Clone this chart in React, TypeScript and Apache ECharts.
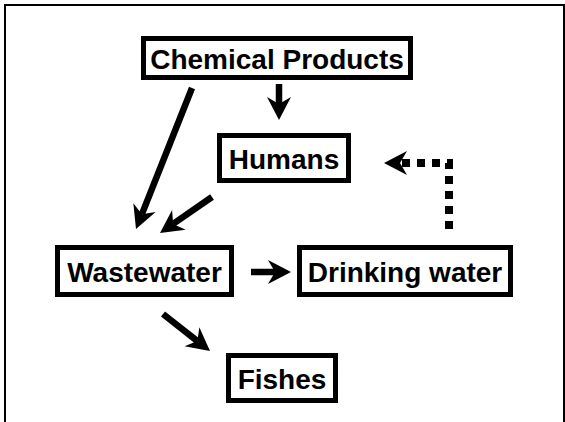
import React, { useEffect, useRef } from "react";
import * as echarts from "echarts";

// Node labels of the flow diagram
const nodeNames = ["Chemical Products", "Humans", "Wastewater", "Drinking water", "Fishes"];
// Links: [from, to, style]
const linkList: [string, string, string][] = [
  ["Chemical Products", "Humans", "solid"],
  ["Chemical Products", "Wastewater", "solid"],
  ["Humans", "Wastewater", "solid"],
  ["Wastewater", "Drinking water", "solid"],
  ["Wastewater", "Fishes", "solid"],
  ["Drinking water", "Humans", "dotted"],
];

// Layout (box outer bounds: x0, y0, x1, y1)
const boxLayout: Record<string, [number, number, number, number]> = {
  "Chemical Products": [141, 36, 413, 80],
  Humans: [217, 133, 351, 183],
  Wastewater: [55, 245, 234, 297],
  "Drinking water": [297, 245, 513, 297],
  Fishes: [226, 353, 338, 403],
};
// Arrow geometry: list of points, last is tip
const arrowLayout: Record<string, number[][]> = {
  "Chemical Products>Humans": [[279, 84], [279, 120]],
  "Chemical Products>Wastewater": [[192, 88], [136, 229]],
  "Humans>Wastewater": [[212, 197], [160, 233]],
  "Wastewater>Drinking water": [[251, 272], [291, 272]],
  "Wastewater>Fishes": [[163, 314], [210, 351]],
  "Drinking water>Humans": [[449, 229], [449, 163], [384, 163]],
};

function arrowHead(from: number[], tip: number[], L = 23, W = 12, n = 7) {
  const dx = tip[0] - from[0];
  const dy = tip[1] - from[1];
  const len = Math.hypot(dx, dy);
  const ux = dx / len, uy = dy / len;
  const px = -uy, py = ux;
  const bx = tip[0] - ux * L, by = tip[1] - uy * L;
  const notch = [tip[0] - ux * (L - n), tip[1] - uy * (L - n)];
  return {
    poly: [tip, [bx + px * W, by + py * W], notch, [bx - px * W, by - py * W]],
    notch,
  };
}

export default function App() {
  const ref = useRef<HTMLDivElement>(null);
  useEffect(() => {
    document.body.style.margin = "0";
    const chart = echarts.init(ref.current!, null, { renderer: "svg" });
    const elements: any[] = [];
    elements.push({
      type: "rect",
      shape: { x: 5, y: 5, width: 559, height: 500 },
      style: { fill: "#fff", stroke: "#000", lineWidth: 2 },
    });
    const sw = 5;
    nodeNames.forEach((name) => {
      const [x0, y0, x1, y1] = boxLayout[name];
      elements.push({
        type: "rect",
        shape: { x: x0 + sw / 2, y: y0 + sw / 2, width: x1 - x0 - sw, height: y1 - y0 - sw },
        style: { fill: "#fff", stroke: "#000", lineWidth: sw },
      });
      elements.push({
        type: "text",
        x: (x0 + x1) / 2,
        y: (y0 + y1) / 2 + 1,
        style: {
          text: name,
          fill: "#000",
          font: "bold 28px 'Liberation Sans', Arial, sans-serif",
          align: "center",
          verticalAlign: "middle",
        },
      });
    });
    linkList.forEach(([a, b, kind]) => {
      const pts = arrowLayout[a + ">" + b];
      const tip = pts[pts.length - 1];
      const prev = pts[pts.length - 2];
      const head = arrowHead(prev, tip);
      const linePts = pts.slice(0, -1).concat([head.notch]);
      elements.push({
        type: "polyline",
        shape: { points: linePts },
        style:
          kind === "dotted"
            ? { stroke: "#000", lineWidth: 8, lineDash: [8, 7], lineCap: "butt", fill: null }
            : { stroke: "#000", lineWidth: 6.5, lineCap: "butt", fill: null },
      });
      elements.push({
        type: "polygon",
        shape: { points: head.poly },
        style: { fill: "#000" },
      });
    });
    chart.setOption({ animation: false, graphic: { elements } });
    return () => chart.dispose();
  }, []);
  return <div ref={ref} style={{ width: 565, height: 422 }} />;
}
